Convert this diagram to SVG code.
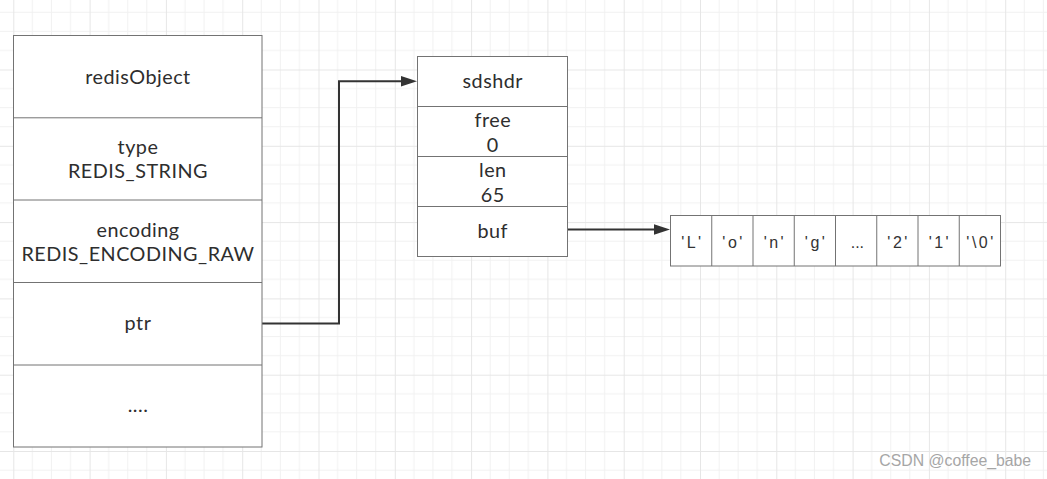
<svg xmlns="http://www.w3.org/2000/svg" width="1047" height="479" viewBox="0 0 1047 479">
<style>
.box{fill:#fff;stroke:#737373;stroke-width:1}
.div{stroke:#737373;stroke-width:1;fill:none}
.t{font-family:Lato,"Noto Sans",sans-serif;font-size:19.8px;fill:#2e2e2e;text-anchor:middle;letter-spacing:0.5px}
.c{font-family:"Liberation Sans",Arial,sans-serif;font-size:16px;fill:#333;text-anchor:middle;letter-spacing:2.5px}
.wire{stroke:#333;stroke-width:2;fill:none}
.head{fill:#333}
.wm{font-family:"Liberation Sans",Arial,sans-serif;font-size:15.8px;fill:#a6a6a6}
</style>
<defs>
<pattern id="grid" patternUnits="userSpaceOnUse" x="13.3" y="-6.8" width="76.3" height="76.3">
<path d="M19.075,0V76.3M38.15,0V76.3M57.225,0V76.3M0,19.075H76.3M0,38.15H76.3M0,57.225H76.3" stroke="#f1f1f1" stroke-width="1" fill="none"/>
<path d="M0.5,0V76.3M0,0.5H76.3" stroke="#e6e6e6" stroke-width="1" fill="none"/>
</pattern>
</defs>
<rect width="1047" height="479" fill="#fff"/>
<rect width="1047" height="479" fill="url(#grid)"/>

<g id="connectors">
<path class="wire" d="M262,323.5H339V81.3H402"/>
<polygon class="head" points="417,81.3 401,76 401,86.6"/>
<path class="wire" d="M567,229.5H655"/>
<polygon class="head" points="670,229.5 654,224.2 654,234.8"/>
</g>

<g id="redisObject">
<rect class="box" x="13.5" y="35.5" width="248.5" height="411.5"/>
<path class="div" d="M13.5,117.8H262M13.5,200H262M13.5,282.5H262M13.5,365H262"/>
<text class="t" x="138" y="84">redisObject</text>
<text class="t" x="138" y="154">type</text>
<text class="t" x="138" y="178">REDIS_STRING</text>
<text class="t" x="138" y="236.5">encoding</text>
<text class="t" x="138" y="260.5">REDIS_ENCODING_RAW</text>
<text class="t" x="138" y="330">ptr</text>
<text class="t" x="138" y="412">....</text>
</g>

<g id="sdshdr">
<rect class="box" x="417.5" y="56.5" width="150" height="200"/>
<path class="div" d="M417.5,106.5H567.5M417.5,156.5H567.5M417.5,206.5H567.5"/>
<text class="t" x="492.8" y="88.3">sdshdr</text>
<text class="t" x="492.8" y="126.7">free</text>
<text class="t" x="492.8" y="151.7">0</text>
<text class="t" x="492.8" y="176.7">len</text>
<text class="t" x="492.8" y="201.7">65</text>
<text class="t" x="492.8" y="238.3">buf</text>
</g>

<g id="buf-array">
<rect class="box" x="670.5" y="215.5" width="330" height="50.5"/>
<path class="div" d="M711.75,215.5V266M753,215.5V266M794.25,215.5V266M835.5,215.5V266M876.75,215.5V266M918,215.5V266M959.25,215.5V266"/>
<text class="c" x="692.4" y="248.3">'L'</text>
<text class="c" x="733.6" y="248.3">'o'</text>
<text class="c" x="774.9" y="248.3">'n'</text>
<text class="c" x="816.1" y="248.3">'g'</text>
<text class="c" x="857.4" y="248.3" style="letter-spacing:0">...</text>
<text class="c" x="898.6" y="248.3">'2'</text>
<text class="c" x="939.9" y="248.3">'1'</text>
<text class="c" x="981.1" y="248.3">'\0'</text>
</g>

<text class="wm" x="879.3" y="465.7">CSDN @coffee_babe</text>
</svg>
